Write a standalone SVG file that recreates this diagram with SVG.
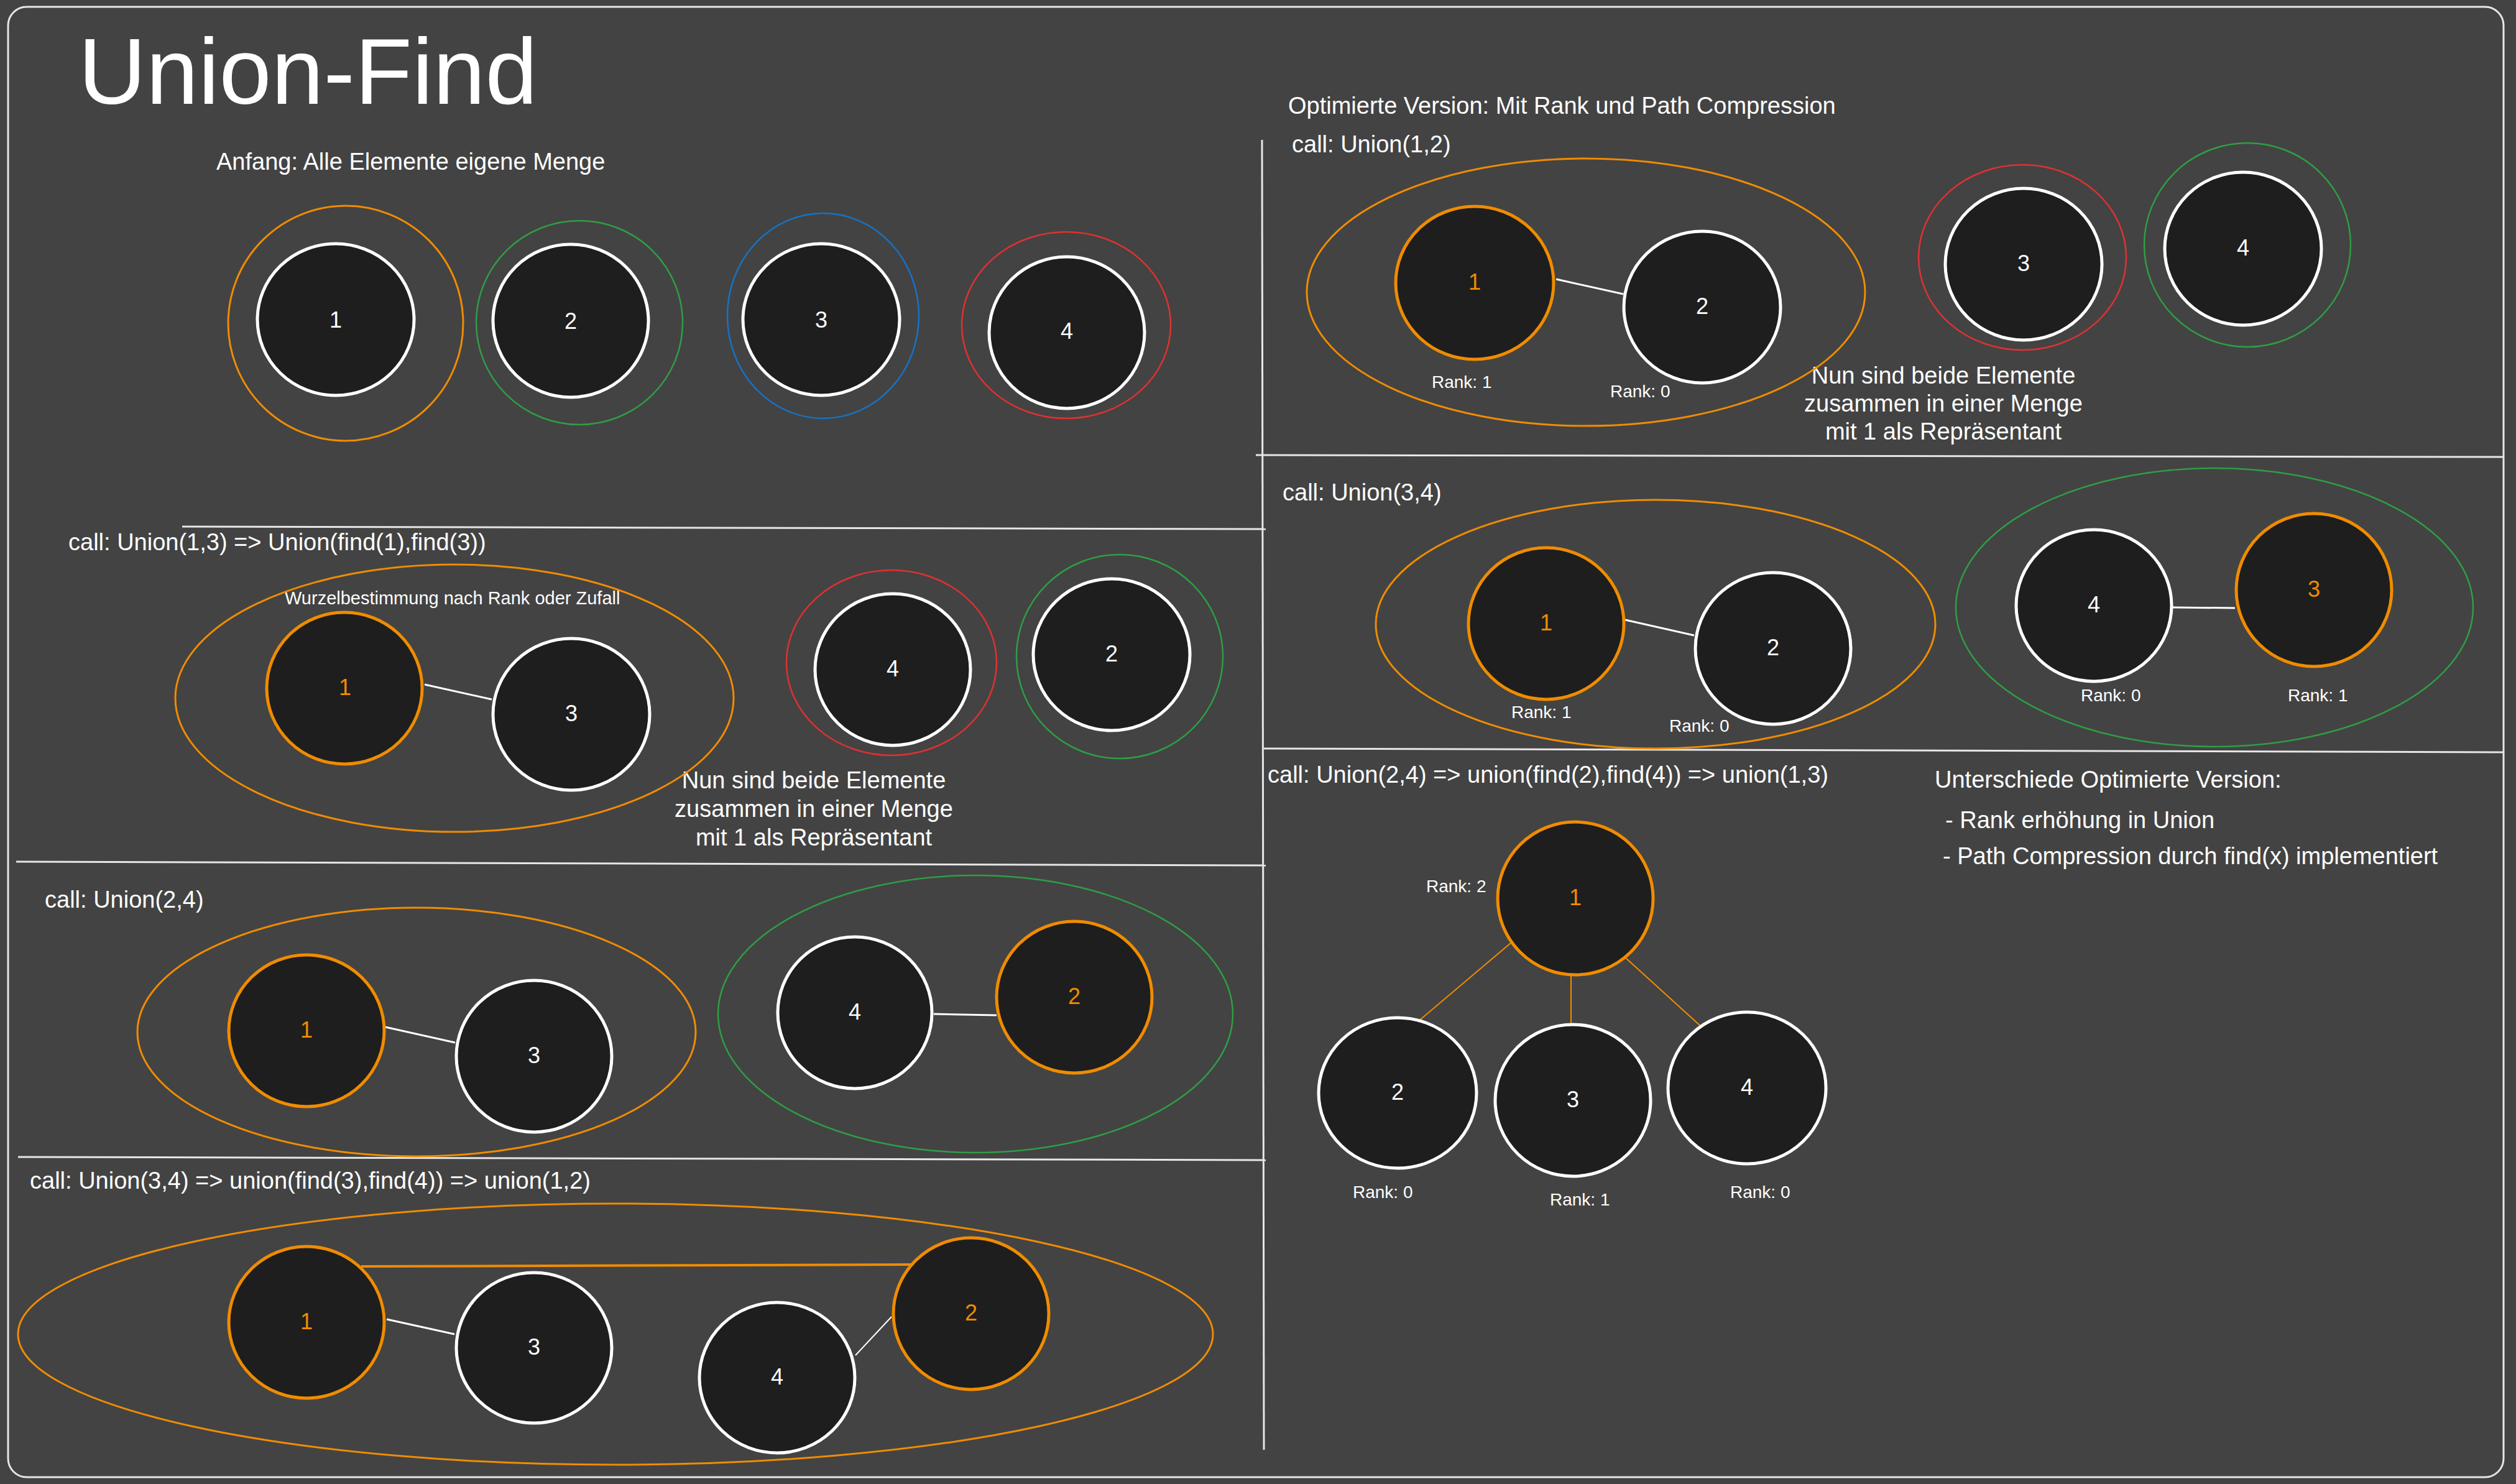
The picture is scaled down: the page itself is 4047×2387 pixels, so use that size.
<svg xmlns="http://www.w3.org/2000/svg" width="4047" height="2387" viewBox="0 0 4047 2387">
<style>
text{font-family:"Liberation Sans",Arial,sans-serif;fill:#ffffff}
.t{font-size:38px}
.r{font-size:28px}
.s{font-size:29px}
.lab{font-size:36px;text-anchor:middle}
.o{fill:#f08c00}
.n{fill:#1e1e1e;stroke:#ffffff;stroke-width:5}
.no{fill:#1e1e1e;stroke:#f08c00;stroke-width:5}
.so{fill:none;stroke:#f08c00;stroke-width:3}
.sg{fill:none;stroke:#2f9e44;stroke-width:2.5}
.sr{fill:none;stroke:#e03131;stroke-width:2.5}
.sb{fill:none;stroke:#1971c2;stroke-width:2.5}
.div{stroke:#e6e6e6;stroke-width:3;fill:none}
.cw{stroke:#ffffff;stroke-width:3}
.co{stroke:#f08c00;stroke-width:2}
</style>
<rect x="0" y="0" width="4047" height="2387" fill="#434343"/>
<rect x="13" y="11" width="4014" height="2365" rx="30" fill="none" stroke="#e6e6e6" stroke-width="3"/>

<g id="dividers">
<line class="div" x1="293" y1="847" x2="2036" y2="851"/>
<line class="div" x1="26" y1="1386" x2="2036" y2="1392"/>
<line class="div" x1="29" y1="1861" x2="2036" y2="1866"/>
<line class="div" x1="2030" y1="225" x2="2033" y2="2332"/>
<line class="div" x1="2020" y1="732" x2="4027" y2="735"/>
<line class="div" x1="2033" y1="1204" x2="4027" y2="1210"/>
</g>

<g id="texts">
<text x="126" y="167" style="font-size:151px">Union-Find</text>
<text class="t" x="348" y="273">Anfang: Alle Elemente eigene Menge</text>
<text class="t" x="110" y="885">call: Union(1,3) =&gt; Union(find(1),find(3))</text>
<text class="s" x="458" y="972">Wurzelbestimmung nach Rank oder Zufall</text>
<text class="t" text-anchor="middle" x="1309" y="1268">Nun sind beide Elemente</text>
<text class="t" text-anchor="middle" x="1309" y="1314">zusammen in einer Menge</text>
<text class="t" text-anchor="middle" x="1309" y="1360">mit 1 als Repräsentant</text>
<text class="t" x="72" y="1460">call: Union(2,4)</text>
<text class="t" x="48" y="1912">call: Union(3,4) =&gt; union(find(3),find(4)) =&gt; union(1,2)</text>
<text class="t" x="2072" y="183">Optimierte Version: Mit Rank und Path Compression</text>
<text class="t" x="2078" y="245">call: Union(1,2)</text>
<text class="r" x="2303" y="624">Rank: 1</text>
<text class="r" x="2590" y="639">Rank: 0</text>
<text class="t" text-anchor="middle" x="3126" y="617">Nun sind beide Elemente</text>
<text class="t" text-anchor="middle" x="3126" y="662">zusammen in einer Menge</text>
<text class="t" text-anchor="middle" x="3126" y="707">mit 1 als Repräsentant</text>
<text class="t" x="2063" y="805">call: Union(3,4)</text>
<text class="r" x="2431" y="1155">Rank: 1</text>
<text class="r" x="2685" y="1177">Rank: 0</text>
<text class="r" x="3347" y="1128">Rank: 0</text>
<text class="r" x="3680" y="1128">Rank: 1</text>
<text class="t" x="2039" y="1259">call: Union(2,4) =&gt; union(find(2),find(4)) =&gt; union(1,3)</text>
<text class="t" x="3112" y="1267">Unterschiede Optimierte Version:</text>
<text class="t" x="3129" y="1332">- Rank erhöhung in Union</text>
<text class="t" x="3125" y="1390">- Path Compression durch find(x) implementiert</text>
<text class="r" x="2294" y="1435">Rank: 2</text>
<text class="r" x="2176" y="1927">Rank: 0</text>
<text class="r" x="2493" y="1939">Rank: 1</text>
<text class="r" x="2783" y="1927">Rank: 0</text>
</g>

<g id="sets">
<ellipse class="so" cx="556" cy="520" rx="189" ry="189"/>
<ellipse class="sg" cx="932" cy="519" rx="166" ry="164"/>
<ellipse class="sb" cx="1324" cy="508" rx="154" ry="165"/>
<ellipse class="sr" cx="1715" cy="523" rx="168" ry="150"/>
<ellipse class="so" cx="731" cy="1123" rx="449" ry="215"/>
<ellipse class="sr" cx="1434" cy="1066" rx="169" ry="149"/>
<ellipse class="sg" cx="1801" cy="1056" rx="166" ry="164"/>
<ellipse class="so" cx="670" cy="1660" rx="449" ry="200"/>
<ellipse class="sg" cx="1569" cy="1631" rx="414" ry="223"/>
<ellipse class="so" cx="990" cy="2146" rx="961" ry="210"/>
<ellipse class="so" cx="2551" cy="470" rx="449" ry="215"/>
<ellipse class="sr" cx="3253" cy="414" rx="167" ry="149"/>
<ellipse class="sg" cx="3615" cy="394" rx="166" ry="164"/>
<ellipse class="so" cx="2663" cy="1004" rx="450" ry="200"/>
<ellipse class="sg" cx="3562" cy="977" rx="416" ry="224"/>
</g>

<g id="connectors">
<line class="cw" x1="683" y1="1101" x2="791" y2="1125"/>
<line class="cw" x1="620" y1="1652" x2="732" y2="1677"/>
<line class="cw" x1="1502" y1="1631" x2="1603" y2="1633"/>
<line class="co" style="stroke-width:4" x1="581" y1="2037" x2="1467" y2="2034"/>
<line class="cw" x1="622" y1="2122" x2="731" y2="2146"/>
<line class="cw" style="stroke-width:2" x1="1376" y1="2180" x2="1434" y2="2118"/>
<line class="cw" x1="2503" y1="449" x2="2611" y2="473"/>
<line class="cw" x1="2614" y1="997" x2="2725" y2="1022"/>
<line class="cw" x1="3495" y1="977" x2="3595" y2="978"/>
<line class="co" x1="2431" y1="1516" x2="2281" y2="1643"/>
<line class="co" x1="2527" y1="1568" x2="2527" y2="1648"/>
<line class="co" x1="2614" y1="1540" x2="2735" y2="1650"/>
</g>

<g id="a1"><ellipse class="n" cx="540" cy="514" rx="126" ry="122"/><text class="lab" x="540" y="527">1</text></g>
<g id="a2"><ellipse class="n" cx="918" cy="516" rx="125" ry="123"/><text class="lab" x="918" y="529">2</text></g>
<g id="a3"><ellipse class="n" cx="1321" cy="514" rx="126" ry="122"/><text class="lab" x="1321" y="527">3</text></g>
<g id="a4"><ellipse class="n" cx="1716" cy="535" rx="125" ry="122"/><text class="lab" x="1716" y="545">4</text></g>

<g id="b1"><ellipse class="no" cx="554" cy="1107" rx="125" ry="122"/><text class="lab o" x="555" y="1118">1</text></g>
<g id="b3"><ellipse class="n" cx="919" cy="1149" rx="126" ry="122"/><text class="lab" x="919" y="1160">3</text></g>
<g id="b4"><ellipse class="n" cx="1436" cy="1077" rx="125" ry="122"/><text class="lab" x="1436" y="1088">4</text></g>
<g id="b2"><ellipse class="n" cx="1788" cy="1053" rx="126" ry="122"/><text class="lab" x="1788" y="1064">2</text></g>

<g id="c1"><ellipse class="no" cx="493" cy="1658" rx="125" ry="122"/><text class="lab o" x="493" y="1669">1</text></g>
<g id="c3"><ellipse class="n" cx="859" cy="1699" rx="125" ry="122"/><text class="lab" x="859" y="1710">3</text></g>
<g id="c4"><ellipse class="n" cx="1375" cy="1629" rx="124" ry="122"/><text class="lab" x="1375" y="1640">4</text></g>
<g id="c2"><ellipse class="no" cx="1728" cy="1604" rx="125" ry="122"/><text class="lab o" x="1728" y="1615">2</text></g>

<g id="d1"><ellipse class="no" cx="493" cy="2127" rx="125" ry="122"/><text class="lab o" x="493" y="2138">1</text></g>
<g id="d3"><ellipse class="n" cx="859" cy="2168" rx="125" ry="121"/><text class="lab" x="859" y="2179">3</text></g>
<g id="d4"><ellipse class="n" cx="1250" cy="2216" rx="125" ry="121"/><text class="lab" x="1250" y="2227">4</text></g>
<g id="d2"><ellipse class="no" cx="1562" cy="2113" rx="125" ry="122"/><text class="lab o" x="1562" y="2124">2</text></g>

<g id="e1"><ellipse class="no" cx="2372" cy="455" rx="127" ry="123"/><text class="lab o" x="2372" y="466">1</text></g>
<g id="e2"><ellipse class="n" cx="2738" cy="494" rx="126" ry="122"/><text class="lab" x="2738" y="505">2</text></g>
<g id="e3"><ellipse class="n" cx="3255" cy="425" rx="126" ry="122"/><text class="lab" x="3255" y="436">3</text></g>
<g id="e4"><ellipse class="n" cx="3608" cy="400" rx="126" ry="123"/><text class="lab" x="3608" y="411">4</text></g>

<g id="f1"><ellipse class="no" cx="2487" cy="1003" rx="125" ry="122"/><text class="lab o" x="2487" y="1014">1</text></g>
<g id="f2"><ellipse class="n" cx="2852" cy="1043" rx="125" ry="122"/><text class="lab" x="2852" y="1054">2</text></g>
<g id="f4"><ellipse class="n" cx="3368" cy="974" rx="125" ry="122"/><text class="lab" x="3368" y="985">4</text></g>
<g id="f3"><ellipse class="no" cx="3722" cy="949" rx="125" ry="123"/><text class="lab o" x="3722" y="960">3</text></g>

<g id="g1"><ellipse class="no" cx="2534" cy="1445" rx="125" ry="123"/><text class="lab o" x="2534" y="1456">1</text></g>
<g id="g2"><ellipse class="n" cx="2248" cy="1758" rx="127" ry="121"/><text class="lab" x="2248" y="1769">2</text></g>
<g id="g3"><ellipse class="n" cx="2530" cy="1770" rx="125" ry="122"/><text class="lab" x="2530" y="1781">3</text></g>
<g id="g4"><ellipse class="n" cx="2810" cy="1750" rx="127" ry="122"/><text class="lab" x="2810" y="1761">4</text></g>
</svg>
